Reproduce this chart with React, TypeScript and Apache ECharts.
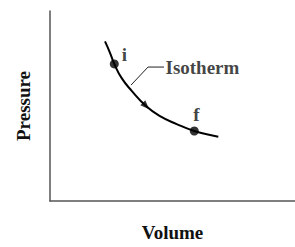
import React, { useEffect, useRef } from "react";
import * as echarts from "echarts";

const curveX = [55, 60, 64.3, 71.7, 81.7, 96, 110, 126.7, 144.3, 156.7, 168.3];
const curveY = [168, 156, 144.3, 129.3, 116, 100, 89.3, 81, 73.7, 70.3, 67.7];
const stateNames = ["i", "f"];
const stateX = [64.3, 144.3];
const stateY = [144.3, 73.7];
const arrowPoint = [96, 100];
const leaderX = [81, 98, 114];
const leaderY = [122, 141, 141];
const curveName = "Isotherm";
const xName = "Volume";
const yName = "Pressure";

const FONT = "'Liberation Serif', 'Times New Roman', serif";

export default function App() {
  const ref = useRef<HTMLDivElement>(null);
  useEffect(() => {
    if (!ref.current) return;
    const chart = echarts.init(ref.current, undefined, { renderer: "svg" });
    const textStyle = { fontFamily: FONT, fontWeight: "bold", fontSize: 19, color: "#111" };
    chart.setOption({
      animation: false,
      backgroundColor: "#ffffff",
      grid: { left: 50, top: 11, right: 0, bottom: 36, containLabel: false },
      xAxis: {
        type: "value",
        min: 0,
        max: 245,
        name: xName,
        nameLocation: "middle",
        nameGap: 22,
        nameTextStyle: textStyle,
        axisLine: { show: true, lineStyle: { color: "#555", width: 1.5 } },
        axisTick: { show: false },
        axisLabel: { show: false },
        splitLine: { show: false },
      },
      yAxis: {
        type: "value",
        min: 0,
        max: 200,
        name: yName,
        nameLocation: "middle",
        nameRotate: 90,
        nameGap: 17,
        nameTextStyle: textStyle,
        axisLine: { show: true, lineStyle: { color: "#555", width: 1.5 } },
        axisTick: { show: false },
        axisLabel: { show: false },
        splitLine: { show: false },
      },
      series: [
        {
          type: "line",
          smooth: true,
          symbol: "none",
          lineStyle: { color: "#000", width: 2 },
          data: curveX.map((x, i) => [x, curveY[i]]),
        },
        {
          type: "line",
          symbol: "none",
          lineStyle: { color: "#222", width: 1 },
          data: leaderX.map((x, i) => [x, leaderY[i]]),
        },
        {
          type: "scatter",
          symbol: "circle",
          symbolSize: 1,
          itemStyle: { color: "rgba(0,0,0,0)" },
          data: [{ value: [leaderX[leaderX.length - 1], leaderY[leaderY.length - 1]], name: curveName }],
          label: { show: true, formatter: "{b}", position: "right", distance: 1, ...textStyle },
        },
        {
          type: "scatter",
          symbol: "circle",
          symbolSize: 9,
          itemStyle: { color: "#000" },
          data: stateX.map((x, i) => ({ value: [x, stateY[i]], name: stateNames[i] })),
          label: {
            show: true,
            formatter: "{b}",
            position: "inside",
            ...textStyle,
          },
          labelLayout: (p: any) => {
            return p.dataIndex === 0 ? { dx: 10, dy: -9 } : { dx: 2, dy: -16 };
          },
        },
        {
          type: "scatter",
          symbol: "triangle",
          symbolSize: [7, 9],
          symbolRotate: -135,
          itemStyle: { color: "#000" },
          data: [arrowPoint],
        },
      ],
    });
    return () => chart.dispose();
  }, []);
  return <div ref={ref} style={{ width: 295, height: 247, position: "absolute", left: 0, top: 0 }} />;
}
